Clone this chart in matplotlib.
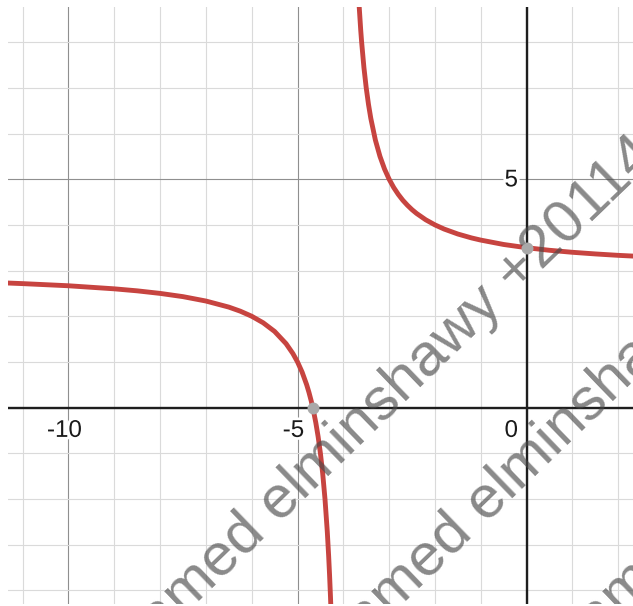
import matplotlib
matplotlib.use("Agg")
import matplotlib.pyplot as plt
import matplotlib.transforms as mtransforms
import matplotlib.patheffects as pe
from matplotlib.ticker import MultipleLocator

# ---- data (graph of the hyperbola) ----
left_branch_x = [-11.40, -11.0, -10.0, -9.0, -8.5, -8.0, -7.5, -7.0, -6.5, -6.25, -6.0,
                 -5.75, -5.5, -5.25, -5.1, -5.0, -4.9, -4.8, -4.75, -4.7, -4.65, -4.6,
                 -4.55, -4.5, -4.45, -4.4, -4.35, -4.32, -4.3, -4.28, -4.26]
left_branch_y = [2.730, 2.714, 2.667, 2.600, 2.556, 2.500, 2.429, 2.333, 2.200, 2.111, 2.000,
                 1.857, 1.667, 1.400, 1.182, 1.000, 0.778, 0.500, 0.333, 0.143, -0.077, -0.333,
                 -0.636, -1.000, -1.444, -2.000, -2.714, -3.250, -3.667, -4.143, -4.692]

right_branch_x = [-3.66, -3.62, -3.6, -3.55, -3.5, -3.45, -3.4, -3.3, -3.2, -3.1, -3.0,
                  -2.9, -2.8, -2.7, -2.6, -2.5, -2.4, -2.2, -2.0, -1.8, -1.5, -1.2,
                  -1.0, -0.5, 0.0, 0.5, 1.0, 1.5, 2.0, 2.4]
right_branch_y = [8.882, 8.263, 8.000, 7.444, 7.000, 6.636, 6.333, 5.857, 5.500, 5.222, 5.000,
                  4.818, 4.667, 4.538, 4.429, 4.333, 4.250, 4.111, 4.000, 3.909, 3.800, 3.714,
                  3.667, 3.571, 3.500, 3.444, 3.400, 3.364, 3.333, 3.313]

marked_x = [-4.667, 0.0]
marked_y = [0.0, 3.5]

x_tick_values = [-10, -5]
x_tick_labels = ["-10", "-5"]
y_tick_values = [5]
y_tick_labels = ["5"]
origin_label = "0"

watermark_text = "mohamed elminshawy +20114"

# ---- figure ----
W, H, DPI = 633, 606, 100
fig = plt.figure(figsize=(W / DPI, H / DPI), dpi=DPI)
fig.patch.set_facecolor("white")
ax = fig.add_axes([8 / W, 2 / H, 625 / W, 597 / H])
ax.set_xlim(-11.32, 2.324)
ax.set_ylim(-4.30, 8.77)

for s in ax.spines.values():
    s.set_visible(False)
ax.xaxis.set_major_locator(MultipleLocator(5))
ax.yaxis.set_major_locator(MultipleLocator(5))
ax.xaxis.set_minor_locator(MultipleLocator(1))
ax.yaxis.set_minor_locator(MultipleLocator(1))
ax.tick_params(which="both", length=0, labelbottom=False, labelleft=False)
ax.grid(which="minor", color="#dadada", linewidth=0.8)
ax.grid(which="major", color="#8f8f8f", linewidth=0.8)
ax.set_axisbelow(True)

ax.axhline(0, color="#1e1e1e", linewidth=1.7, zorder=2)
ax.axvline(0, color="#1e1e1e", linewidth=1.7, zorder=2)

red = "#c74440"
ax.plot(left_branch_x, left_branch_y, color=red, linewidth=3.5,
        solid_capstyle="round", solid_joinstyle="round", zorder=3)
ax.plot(right_branch_x, right_branch_y, color=red, linewidth=3.5,
        solid_capstyle="round", solid_joinstyle="round", zorder=3)
ax.plot(marked_x, marked_y, linestyle="none", marker="o", markersize=8.6,
        markerfacecolor="#a9a9a9", markeredgewidth=0, zorder=4)

# ---- tick labels (Desmos style, inside the plot) ----
lab_font = dict(family="Liberation Sans", fontsize=17.4, color="#1a1a1a")
halo = [pe.withStroke(linewidth=4, foreground="white")]
for v, t in zip(x_tick_values, x_tick_labels):
    tr = mtransforms.offset_copy(ax.transData, fig=fig, x=-4.0, y=-29.3, units="dots")
    ax.text(v, 0, t, transform=tr, ha="center", va="baseline",
            path_effects=halo, zorder=5, **lab_font)
tr0 = mtransforms.offset_copy(ax.transData, fig=fig, x=-8.5, y=-29.3, units="dots")
ax.text(0, 0, origin_label, transform=tr0, ha="right", va="baseline",
        path_effects=halo, zorder=5, **lab_font)
for v, t in zip(y_tick_values, y_tick_labels):
    tr = mtransforms.offset_copy(ax.transData, fig=fig, x=-8.5, y=-7.2, units="dots")
    ax.text(0, v, t, transform=tr, ha="right", va="baseline",
            path_effects=halo, zorder=5, **lab_font)

# ---- watermark ----
row_starts_px = [(75.4, 720.8), (282.4, 720.8), (514.0, 720.8)]
for px, py in row_starts_px:
    ax.text(px / W, 1 - py / H, watermark_text, transform=fig.transFigure,
            rotation=44, rotation_mode="anchor", ha="left", va="baseline",
            family="Liberation Sans", fontsize=43.2, color="#4a4a4a", alpha=0.65,
            clip_on=True, zorder=10)

fig.savefig("out.png", dpi=DPI, facecolor="white")
